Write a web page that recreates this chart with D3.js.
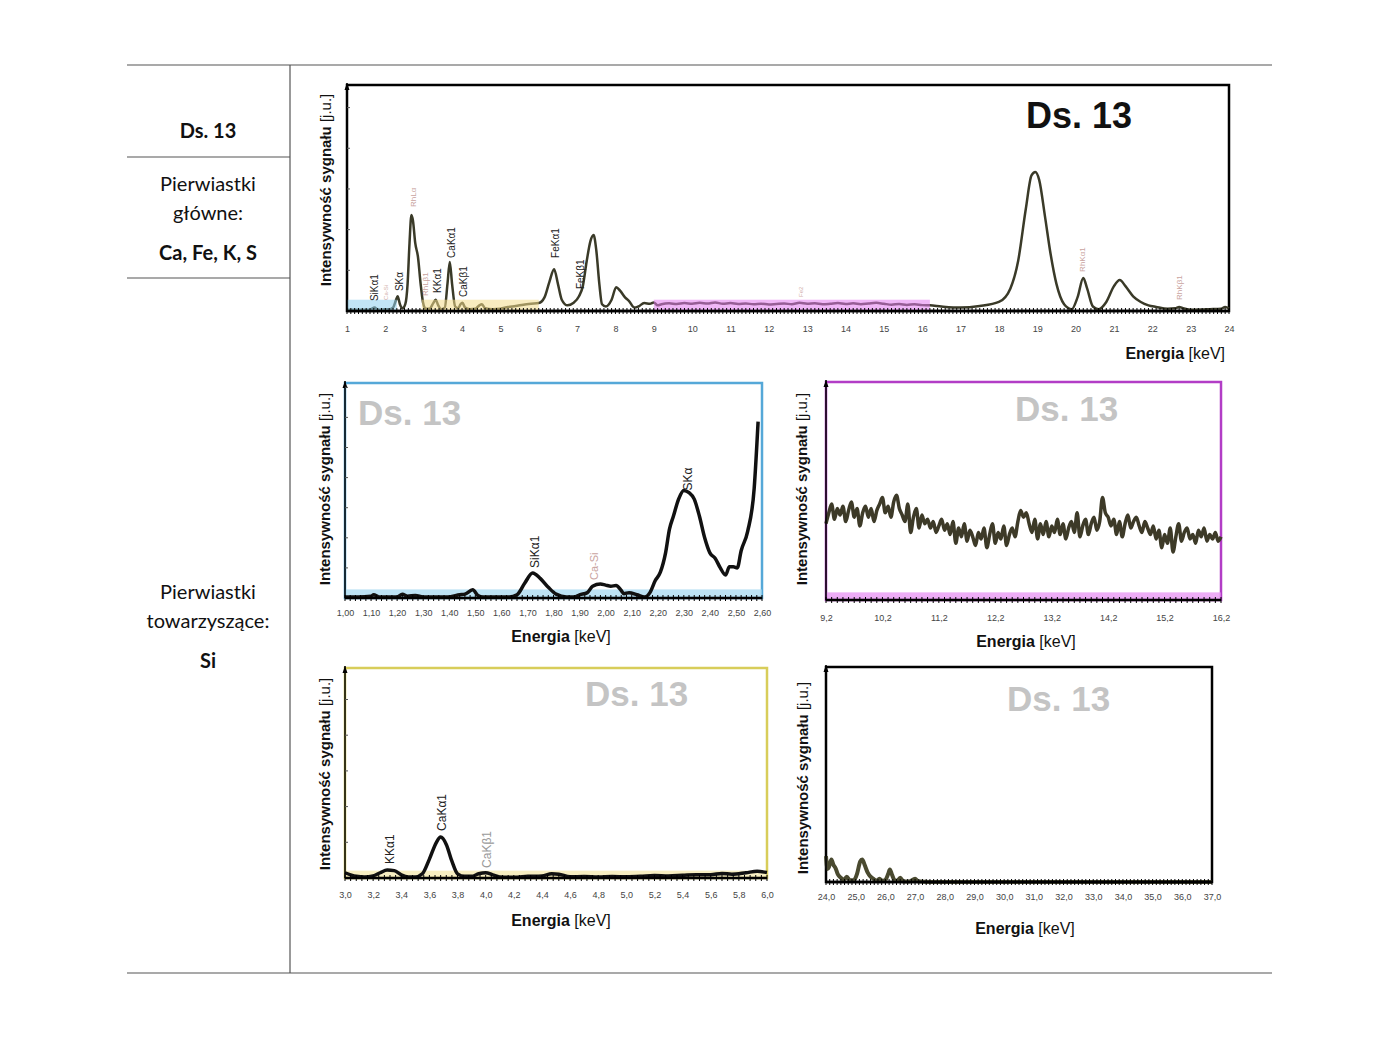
<!DOCTYPE html>
<html><head><meta charset="utf-8">
<script src="https://cdn.jsdelivr.net/npm/d3@7"></script>
<style>body{margin:0;background:#fff}</style>
</head><body>
<svg id="c" width="1400" height="1050"></svg>
<script>
// ---------------- DATA ----------------
const sampleName = "Ds. 13";
const mainElements = "Ca, Fe, K, S";
const traceElements = "Si";

// Main spectrum (1-24 keV), intensity in arbitrary units 0-100
const mainEnergy = [1.00,1.2,1.4,1.6,1.72,1.8,2.0,2.1,2.2,2.28,2.32,2.38,2.45,2.52,2.58,2.63,2.68,2.72,2.78,2.85,2.92,2.98,3.05,3.15,3.25,3.31,3.38,3.45,3.55,3.62,3.68,3.74,3.82,3.9,3.96,4.01,4.08,4.2,4.35,4.45,4.52,4.6,4.8,5.0,5.2,5.4,5.6,5.8,6.0,6.15,6.28,6.4,6.5,6.6,6.75,6.9,7.05,7.15,7.25,7.35,7.43,7.5,7.58,7.65,7.75,7.9,8.02,8.12,8.25,8.35,8.5,8.6,8.75,8.9,9.0,9.1,
 9.2,9.4,9.6,9.8,10.0,10.2,10.4,10.6,10.8,11.0,11.2,11.4,11.6,11.8,12.0,12.2,12.4,12.6,12.8,13.0,13.2,13.4,13.6,13.8,14.0,14.2,14.4,14.6,14.8,15.0,15.2,15.4,15.6,15.8,16.0,16.2,
 16.5,17.0,17.5,18.0,18.3,18.5,18.7,18.85,18.95,19.05,19.2,19.35,19.5,19.7,19.9,20.05,20.2,20.3,20.45,20.6,20.8,21.0,21.15,21.3,21.5,21.7,21.9,22.1,22.4,22.6,22.7,22.8,23.0,23.5,23.8,23.9,24.0];
const mainIntensity = [0.5,0.6,0.5,0.6,1.5,0.6,0.8,0.7,1.5,5,6.5,3,1.2,3,12,30,42.5,40,30,24,12,4,1,1,3.5,5,2.5,0.8,1.5,12,21.7,12,2,1.2,3,3.6,1.5,0.8,1,2.5,3,1.2,0.8,1,1.8,2.2,2.8,3.2,3.5,6,13,18.5,12,5,2.5,3.5,6.5,11,22,31,33.6,27,12,3,2,5,10.5,9,6,4.5,1.5,2,3.5,3.2,3.8,2.5,
 3.0,3.4,3.1,3.5,3.2,3.6,3.3,3.8,3.2,3.5,3.1,3.3,3.0,3.2,2.9,3.1,3.3,3.0,3.6,3.2,3.4,3.0,3.2,3.5,3.1,3.4,3.0,3.3,3.6,3.2,2.8,3.1,2.7,3.0,2.6,2.5,
 2.0,1.5,2.2,4,10,22,45,60,61.5,58,42,25,12,3,0.8,6,14.6,10,2,0.8,4,11,13.7,11,6.5,4,2.5,1.8,1,1.2,1.8,1.2,0.6,0.8,1,1.8,1.2];

// Main chart peak labels: [text, energy, label-bottom intensity, kind]
const mainLabels = [
 ["SiKα1",1.73,4.4,"el"],["Ca-Si",2.02,4.9,"tiny"],["SKα",2.36,8.8,"el"],["RhLα",2.72,46,"rh"],
 ["RhLβ1",3.03,6.6,"rh"],["KKα1",3.35,8,"el"],["CaKα1",3.72,23.5,"el"],["CaKβ1",4.04,6.2,"el"],
 ["FeKα1",6.43,23.5,"el"],["FeKβ1",7.08,9.7,"el"],["Fe2",12.84,6.2,"tiny"],["RhKα1",20.17,17.3,"rh"],["RhKβ1",22.7,4.9,"rh"]];
// Highlighted energy windows in the main chart: [from, to, colour]
const mainWindows = [[1.0,2.3,"#8fd0ef"],[2.95,6.0,"#f2dc8c"],[9.0,16.2,"#e37cf0"]];
const mainTicks = d3.range(1,25);

// Zoom 1: 1.00-2.60 keV
const blueEnergy = [1.00,1.05,1.10,1.11,1.13,1.20,1.22,1.24,1.27,1.30,1.40,1.44,1.46,1.49,1.51,1.53,1.63,1.66,1.69,1.72,1.75,1.78,1.81,1.85,1.88,1.90,1.93,1.95,1.98,2.00,2.02,2.04,2.06,2.07,2.09,2.12,2.15,2.17,2.19,2.21,2.23,2.245,2.26,2.28,2.30,2.32,2.34,2.36,2.38,2.40,2.42,2.44,2.46,2.475,2.49,2.505,2.52,2.545,2.57,2.585];
const blueIntensity = [0.5,0.5,0.8,1.5,0.5,0.5,1.8,0.8,1.2,0.5,0.5,1.5,1.8,3.8,1.2,0.5,0.5,1.5,7,11.6,9,5,1.8,0.5,0.5,1.5,2.5,5.5,6.5,6,5.5,5.8,3.5,2,2.5,1.5,0.5,2.5,8,12,21,32,38,46,50,49,46,38,28,21,18.5,14,10.7,14.5,14.5,14,22,31,51,82];
const blueLabels = [["SiKα1",1.73,14,"el"],["Ca-Si",1.957,8.4,"rh"],["SKα",2.317,50,"el"]];
const blueTicks = d3.range(0,17).map(i=>1+i*0.1);

// Zoom 2: 9.2-16.2 keV, sampled every 0.05 keV
const magStart = 9.2, magStep = 0.05;
const magIntensity = [35,40,44,37,42,39,43,36,41,45,38,42,34,40,43,38,42,36,41,44,47,40,43,38,45,48,42,39,36,44,31,38,42,33,39,35,37,33,36,31,34,37,32,35,30,36,26,33,29,35,27,32,29,25,31,28,33,24,30,35,26,31,28,34,25,30,33,29,36,41,38,40,35,31,37,28,35,30,36,29,34,31,37,30,35,28,33,36,31,40,29,34,37,30,35,38,32,36,47,40,38,34,37,30,36,29,35,39,33,36,38,34,31,36,33,30,34,28,32,24,30,26,33,22,29,35,27,31,33,28,30,26,32,29,33,27,30,28,31,27,29];
const magTicks = d3.range(0,8).map(i=>9.2+i);

// Zoom 3: 3.0-6.0 keV
const yelEnergy = [3.00,3.04,3.08,3.14,3.2,3.25,3.3,3.35,3.4,3.45,3.5,3.55,3.6,3.65,3.68,3.72,3.76,3.8,3.85,3.9,3.95,4.0,4.05,4.1,4.2,4.3,4.4,4.47,4.52,4.6,4.7,4.8,4.9,5.0,5.1,5.2,5.3,5.4,5.5,5.6,5.68,5.75,5.85,5.93,6.0];
const yelIntensity = [2.5,1.5,0.8,0.5,1,2.5,3.8,3.5,1.5,0.5,0.5,2,9,17,19.5,16,8,2,0.8,0.8,2,2.5,1.5,0.5,0.3,0.8,1,2,1.8,0.6,0.7,0.5,0.7,0.6,0.8,1.2,1,1.3,1.6,1.6,2.2,1.8,2.5,3.2,2.6];
const yelLabels = [["KKα1",3.32,6.7,"el"],["CaKα1",3.69,22.4,"el"],["CaKβ1",4.01,4.8,"grey"]];
const yelTicks = d3.range(0,16).map(i=>3+i*0.2);

// Zoom 4: 24-37 keV
const blkEnergy = [24.0,24.05,24.1,24.18,24.25,24.32,24.4,24.5,24.6,24.7,24.8,24.95,25.05,25.15,25.22,25.3,25.4,25.5,25.6,25.7,25.8,25.9,26.0,26.1,26.15,26.22,26.3,26.4,26.5,26.6,26.8,27.0,27.1,27.5,37.0];
const blkIntensity = [12,6,7,10.5,8,6.5,3.5,2,1,2.5,0.8,1,4,9.5,10.5,8,4.5,2.5,1.5,0.5,1.5,0.5,1,4,5.8,3.5,1,0.5,2,0.3,0.2,1.5,0.3,0,0];
const blkTicks = d3.range(24,38);

// ---------------- DRAWING ----------------
const svg = d3.select("#c");
const AR = "'Liberation Sans', Arial, Helvetica, sans-serif";
const CAL = "Lato, 'Open Sans', sans-serif";

// Table frame
const tbl = svg.append("g").attr("stroke","#555").attr("stroke-width",1.2);
tbl.append("line").attr("x1",127).attr("x2",1272).attr("y1",65).attr("y2",65);
tbl.append("line").attr("x1",127).attr("x2",1272).attr("y1",973).attr("y2",973);
tbl.append("line").attr("x1",290).attr("x2",290).attr("y1",65).attr("y2",973);
tbl.append("line").attr("x1",127).attr("x2",290).attr("y1",157).attr("y2",157);
tbl.append("line").attr("x1",127).attr("x2",290).attr("y1",278).attr("y2",278);

const leftTxt = [[sampleName,138,"bold"],["Pierwiastki",191,"normal"],["główne:",220,"normal"],[mainElements,260,"bold"],
  ["Pierwiastki",599,"normal"],["towarzyszące:",628,"normal"],[traceElements,668,"bold"]];
svg.append("g").selectAll("text").data(leftTxt).join("text")
  .attr("x",208).attr("y",d=>d[1]).attr("text-anchor","middle")
  .style("font-family",CAL).attr("font-size",20).attr("font-weight",d=>d[2]).attr("fill","#111")
  .text(d=>d[0]);

const labelColor = {el:"#222", rh:"#c9a3a0", tiny:"#d2b0aa", grey:"#9a9a9a"};

function panel(o){
  const g = svg.append("g").style("font-family",AR);
  const x = d3.scaleLinear().domain(o.xDomain).range([o.x0,o.x1]);
  const y = d3.scaleLinear().domain([0,100]).range([o.yb,o.yt]);
  // frame
  g.append("rect").attr("x",o.x0).attr("y",o.yt).attr("width",o.x1-o.x0).attr("height",o.yb-o.yt)
    .attr("fill","none").attr("stroke",o.frame).attr("stroke-width",o.frameW||2.5);
  // windows (under the line)
  (o.windows||[]).forEach(w=>{
    g.append("rect").attr("x",x(w[0])).attr("width",x(w[1])-x(w[0]))
      .attr("y",y(w[3]||5)).attr("height",y(0)-y(w[3]||5))
      .attr("fill",w[2]).attr("opacity",w[4]||0.55);
  });
  // line
  const line = d3.line().x((d,i)=>x(o.E[i])).y(d=>y(d)).curve(d3.curveMonotoneX);
  g.append("path").datum(o.I).attr("d",line).attr("fill","none")
    .attr("stroke",o.lineColor).attr("stroke-width",o.lineW).attr("stroke-linejoin","round");
  // windows tint over the line (main chart)
  (o.overlay||[]).forEach(w=>{
    g.append("rect").attr("x",x(w[0])).attr("width",x(w[1])-x(w[0]))
      .attr("y",y(5)).attr("height",y(0)-y(5))
      .attr("fill",w[2]).attr("opacity",0.55);
  });
  // axis line
  g.append("line").attr("x1",o.x0).attr("x2",o.x1).attr("y1",o.yb).attr("y2",o.yb)
    .attr("stroke","#000").attr("stroke-width",2.5);
  g.append("line").attr("x1",o.x0).attr("x2",o.x0).attr("y1",o.yb).attr("y2",o.yt-2)
    .attr("stroke","#000").attr("stroke-width",1.5);
  // arrow
  g.append("path").attr("d",`M${o.x0-2.5},${o.yt+5}L${o.x0},${o.yt-2}L${o.x0+2.5},${o.yt+5}Z`).attr("fill","#000");
  // minor ticks
  const minor = d3.range(o.xDomain[0], o.xDomain[1]+1e-9, o.minorStep);
  g.append("g").selectAll("line").data(minor).join("line")
    .attr("x1",d=>x(d)).attr("x2",d=>x(d)).attr("y1",o.yb-3).attr("y2",o.yb+3)
    .attr("stroke","#000").attr("stroke-width",1);
  // y ticks
  if(o.yTicks){
    g.append("g").selectAll("line").data(o.yTicks).join("line")
      .attr("x1",o.x0).attr("x2",o.x0+3).attr("y1",d=>y(d)).attr("y2",d=>y(d))
      .attr("stroke","#555").attr("stroke-width",1);
  }
  // tick labels via d3 axis
  const ax = d3.axisBottom(x).tickValues(o.ticks).tickFormat(o.fmt).tickSize(0).tickPadding(0);
  const axg = g.append("g").attr("transform",`translate(0,${o.tickY})`).call(ax);
  axg.attr("font-family",null);
  axg.select(".domain").remove();
  axg.selectAll("text").style("font-family",AR).attr("font-size",o.tickFs||9).attr("fill","#444").attr("dy",0);
  // labels
  (o.labels||[]).forEach(l=>{
    const fs = l[3]==="tiny" ? 6 : (l[3]==="rh" ? (o.rhFs||8) : o.labFs);
    g.append("text").attr("transform",`translate(${x(l[1])},${y(l[2])}) rotate(-90)`)
      .attr("dy","0.35em").attr("font-size",fs)
      .attr("fill",labelColor[l[3]]).text(l[0]);
  });
  // y axis title
  const yt = g.append("text").attr("transform",`translate(${o.yLabX},${o.yLabY}) rotate(-90)`)
    .attr("text-anchor","middle").attr("dy","0.35em").attr("font-size",15).attr("fill","#111");
  yt.append("tspan").attr("font-weight","bold").text("Intensywność sygnału ");
  yt.append("tspan").text("[j.u.]");
  // x axis title
  const xt = g.append("text").attr("x",o.xLabX).attr("y",o.xLabY).attr("text-anchor",o.xLabAnchor||"middle")
    .attr("font-size",16).attr("fill","#111");
  xt.append("tspan").attr("font-weight","bold").text("Energia ");
  xt.append("tspan").text("[keV]");
  // sample name
  g.append("text").attr("x",o.nameX).attr("y",o.nameY).attr("font-weight","bold")
    .attr("font-size",o.nameFs||35).attr("fill",o.nameColor).text(sampleName);
}

const fmt1 = d=>d3.format(".1f")(d).replace(".",",");
const fmt2 = d=>d3.format(".2f")(d).replace(".",",");

// Main chart
panel({x0:347,x1:1229,yt:85,yb:311,xDomain:[1,24],E:mainEnergy,I:mainIntensity,
  frame:"#000",lineColor:"#3a3a28",lineW:2.5,
  overlay:mainWindows,minorStep:0.1,yTicks:[18,36,54,72,90],
  ticks:mainTicks,fmt:d3.format("d"),tickY:332,tickFs:9,
  labels:mainLabels,labFs:10,rhFs:8,
  yLabX:326,yLabY:190,xLabX:1225,xLabY:359,xLabAnchor:"end",
  nameX:1026,nameY:128,nameFs:36,nameColor:"#111"});

// Blue zoom
panel({x0:345,x1:762,yt:383,yb:598,xDomain:[1.0,2.6],E:blueEnergy,I:blueIntensity,
  frame:"#55a8d8",lineColor:"#111",lineW:3.5,
  windows:[[1.0,2.6,"#9fd6f0",4,0.7]],minorStep:0.02,yTicks:[14,28,42,56,70,84,98],
  ticks:blueTicks,fmt:fmt2,tickY:616,tickFs:9,
  labels:blueLabels,labFs:12,rhFs:11,
  yLabX:325,yLabY:489,xLabX:561,xLabY:642,
  nameX:358,nameY:425,nameFs:35,nameColor:"#c4c4c4"});

// Magenta zoom
panel({x0:826,x1:1221,yt:382,yb:600,xDomain:[9.2,16.2],E:magIntensity.map((d,i)=>magStart+i*magStep),I:magIntensity,
  frame:"#b23dc6",lineColor:"#3d3a28",lineW:3.5,
  windows:[[9.2,16.2,"#e58af2",3.5,0.7]],minorStep:0.1,
  ticks:magTicks,fmt:fmt1,tickY:621,tickFs:9,
  labels:[],labFs:12,
  yLabX:802,yLabY:489,xLabX:1026,xLabY:647,
  nameX:1015,nameY:421,nameFs:35,nameColor:"#c4c4c4"});

// Yellow zoom
panel({x0:345,x1:767,yt:668,yb:878,xDomain:[3.0,6.0],E:yelEnergy,I:yelIntensity,
  frame:"#d8cd5a",lineColor:"#111",lineW:3.5,
  windows:[[3.0,6.0,"#f3e7a6",3.5,0.7]],minorStep:0.04,yTicks:[17,34,51,68,85],
  ticks:yelTicks,fmt:fmt1,tickY:898,tickFs:9,
  labels:yelLabels,labFs:12,
  yLabX:325,yLabY:774,xLabX:561,xLabY:926,
  nameX:585,nameY:706,nameFs:35,nameColor:"#c4c4c4"});

// Black zoom
panel({x0:826,x1:1212,yt:667,yb:882,xDomain:[24,37],E:blkEnergy,I:blkIntensity,
  frame:"#000",lineColor:"#4a4a30",lineW:4,
  windows:[],minorStep:0.125,
  ticks:blkTicks,fmt:fmt1,tickY:900,tickFs:9,
  labels:[],labFs:12,
  yLabX:803,yLabY:778,xLabX:1025,xLabY:934,
  nameX:1007,nameY:711,nameFs:35,nameColor:"#c4c4c4"});
</script>
</body></html>
